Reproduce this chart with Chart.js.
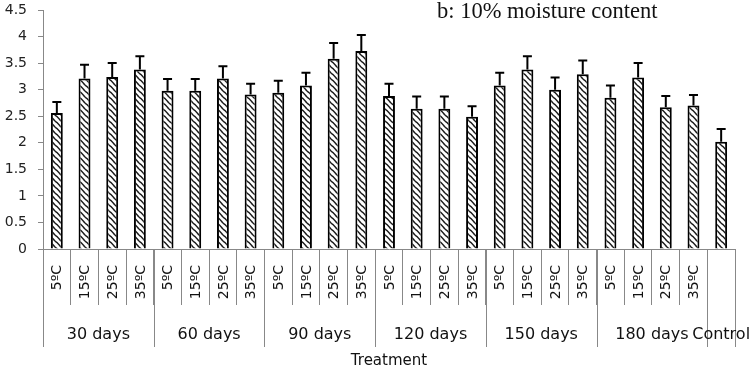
<!DOCTYPE html>
<html>
<head>
<meta charset="utf-8">
<script src="https://cdn.jsdelivr.net/npm/chart.js@4"></script>
<style>
  body { margin: 0; background: #fff; }
  canvas { display: block; }
</style>
</head>
<body>
<canvas id="chart" width="752" height="369"></canvas>
<script>
// temperature under each bar, the Control bar has none
const categories = [
  '5ºC', '15ºC', '25ºC', '35ºC',
  '5ºC', '15ºC', '25ºC', '35ºC',
  '5ºC', '15ºC', '25ºC', '35ºC',
  '5ºC', '15ºC', '25ºC', '35ºC',
  '5ºC', '15ºC', '25ºC', '35ºC',
  '5ºC', '15ºC', '25ºC', '35ºC',
  ''
];
const groups = ['30 days', '60 days', '90 days', '120 days', '150 days', '180 days', 'Control'];
const groupSizes = [4, 4, 4, 4, 4, 4, 1];
const means = [
  2.56, 3.21, 3.24, 3.38,
  2.98, 2.98, 3.21, 2.91,
  2.94, 3.08, 3.58, 3.73,
  2.88, 2.64, 2.64, 2.49,
  3.08, 3.38, 3.00, 3.29,
  2.85, 3.23, 2.67, 2.70,
  2.02
];
const errors = [
  0.21, 0.26, 0.26, 0.25,
  0.22, 0.22, 0.23, 0.20,
  0.23, 0.24, 0.30, 0.30,
  0.23, 0.23, 0.23, 0.20,
  0.24, 0.25, 0.23, 0.26,
  0.23, 0.27, 0.21, 0.20,
  0.24
];
const yTicks = { min: 0, max: 4.5, step: 0.5 };

// diagonal zigzag hatch like the excel fill
function zigzag() {
  const c = document.createElement('canvas');
  c.width = 6; c.height = 6;
  const g = c.getContext('2d');
  g.fillStyle = '#fff';
  g.fillRect(0, 0, 6, 6);
  g.strokeStyle = '#1a1a1a';
  g.lineWidth = 1.4;
  g.beginPath();
  // "\" strokes with a small kink, wrapped across the tile
  [-6, 0, 6].forEach((o) => {
    g.moveTo(o - 1, -1); g.lineTo(o + 2, 2); g.lineTo(o + 3, 2.5); g.lineTo(o + 7, 7);
  });
  g.stroke();
  return g.createPattern(c, 'repeat');
}

const labelFont = 'DejaVu Sans, Verdana, sans-serif';

const extras = {
  id: 'extras',
  afterDatasetsDraw(chart) {
    const ctx = chart.ctx;
    const y = chart.scales.y;
    const meta = chart.getDatasetMeta(0);
    ctx.save();
    ctx.strokeStyle = '#000';
    ctx.lineWidth = 2;
    meta.data.forEach((bar, i) => {
      const top = y.getPixelForValue(means[i] + errors[i]);
      ctx.beginPath();
      ctx.moveTo(bar.x, bar.y);
      ctx.lineTo(bar.x, top);
      ctx.moveTo(bar.x - 4.5, top);
      ctx.lineTo(bar.x + 4.5, top);
      ctx.stroke();
    });
    ctx.restore();
  },
  afterDraw(chart) {
    const ctx = chart.ctx;
    const x = chart.scales.x;
    const area = chart.chartArea;
    const step = x.width / categories.length;
    ctx.save();

    // temperature labels, rotated
    ctx.fillStyle = '#111';
    ctx.font = '14px ' + labelFont;
    ctx.textAlign = 'right';
    ctx.textBaseline = 'middle';
    categories.forEach((c, i) => {
      const px = x.getPixelForValue(i);
      ctx.save();
      ctx.translate(px + 1, area.bottom + 16);
      ctx.rotate(-Math.PI / 2);
      ctx.fillText(c, 0, 0);
      ctx.restore();
    });

    // group separators and labels
    ctx.strokeStyle = '#888';
    ctx.lineWidth = 1;
    ctx.font = '16px ' + labelFont;
    ctx.textAlign = 'center';
    let start = 0;
    groups.forEach((g, k) => {
      const left = x.getPixelForValue(start) - step / 2;
      const right = x.getPixelForValue(start + groupSizes[k] - 1) + step / 2;
      ctx.beginPath();
      ctx.moveTo(Math.round(left) + 0.5, area.bottom);
      ctx.lineTo(Math.round(left) + 0.5, area.bottom + 98);
      if (k === groups.length - 1) {
        ctx.moveTo(Math.round(right) + 0.5, area.bottom);
        ctx.lineTo(Math.round(right) + 0.5, area.bottom + 98);
      }
      ctx.stroke();
      ctx.fillText(g, (left + right) / 2, area.bottom + 86);
      start += groupSizes[k];
    });

    // axis title
    ctx.font = '15px ' + labelFont;
    ctx.fillText('Treatment', (area.left + area.right) / 2, area.bottom + 112);

    // panel caption
    ctx.font = '22.5px "Liberation Serif", "Times New Roman", serif';
    ctx.textAlign = 'left';
    ctx.textBaseline = 'alphabetic';
    ctx.fillText('b: 10% moisture content', 437, 18);
    ctx.restore();
  }
};

new Chart(document.getElementById('chart'), {
  type: 'bar',
  data: {
    labels: categories.map((c, i) => i),
    datasets: [{
      data: means,
      backgroundColor: zigzag(),
      borderColor: '#000',
      borderWidth: 2,
      barPercentage: 0.43,
      categoryPercentage: 1
    }]
  },
  options: {
    responsive: false,
    animation: false,
    layout: { padding: { top: 10, right: 17, left: 0, bottom: 0 } },
    plugins: {
      legend: { display: false },
      tooltip: { enabled: false }
    },
    scales: {
      x: {
        type: 'category',
        offset: true,
        grid: { offset: true, drawOnChartArea: false, tickLength: 56, color: '#888' },
        border: { color: '#888' },
        ticks: { display: false },
        afterFit(s) { s.height = 120; }
      },
      y: {
        min: yTicks.min,
        max: yTicks.max,
        ticks: {
          stepSize: yTicks.step,
          color: '#222',
          padding: 11,
          font: { family: labelFont, size: 14 },
          callback: (v) => String(v)
        },
        grid: { drawOnChartArea: false, tickLength: 5, color: '#888' },
        border: { color: '#888' },
        afterFit(s) {
          s.width = 43;
          s.paddingTop = 0;
          s.paddingBottom = 0;
        }
      }
    }
  },
  plugins: [extras]
});
</script>
</body>
</html>
